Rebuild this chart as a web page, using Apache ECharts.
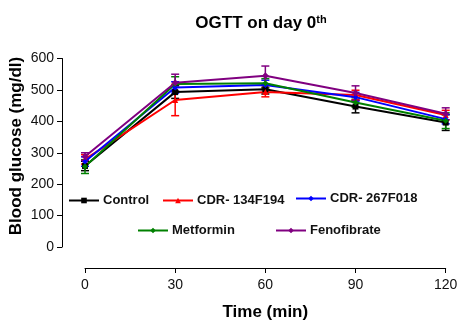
<!DOCTYPE html>
<html><head><meta charset="utf-8">
<script src="https://cdn.jsdelivr.net/npm/echarts@6/dist/echarts.min.js"></script>
<style>html,body{margin:0;padding:0;background:#fff}#c{width:470px;height:326px}</style>
</head><body><div id="c"></div>
<script>
const times = [0, 30, 60, 90, 120];
const xTicks = [0, 30, 60, 90, 120];
const seriesNames = ['Control', 'CDR- 134F194', 'CDR- 267F018', 'Metformin', 'Fenofibrate'];
const control = [258, 493, 502, 447, 396];
const cdr134 = [279, 468, 493, 484, 420];
const cdr267 = [272, 508, 516, 477, 407];
const metformin = [256, 519, 521, 460, 402];
const fenofibrate = [288, 523, 545, 490, 424];
const controlErr = [15, 20, 15, 20, 25];
const cdr134Err = [15, 50, 15, 15, 15];
const cdr267Err = [15, 18, 15, 15, 15];
const metforminErr = [22, 23, 15, 15, 25];
const fenofibrateErr = [12, 27, 31, 23, 19];

const colors = ['#000000', '#ff0000', '#0000ff', '#008000', '#800080'];
const symbols = ['rect', 'triangle', 'diamond', 'diamond', 'diamond'];
const symSizes = [6, 6, 6, 6, 7];
const values = [control, cdr134, cdr267, metformin, fenofibrate];
const errs = [controlErr, cdr134Err, cdr267Err, metforminErr, fenofibrateErr];

const FONT = '"Liberation Sans", Arial, sans-serif';
const series = [];
values.forEach((vals, i) => {
  series.push({
    type: 'custom', name: seriesNames[i] + '_err', silent: true,
    data: times.map((t, k) => [t, vals[k] - errs[i][k], vals[k] + errs[i][k]]),
    encode: {x: 0, y: [1, 2]},
    z: 3,
    renderItem: function (params, api) {
      const x = api.value(0);
      const lo = api.coord([x, api.value(1)]);
      const hi = api.coord([x, api.value(2)]);
      const w = 4;
      const st = {stroke: colors[i], lineWidth: 1.5};
      return {type: 'group', children: [
        {type: 'line', shape: {x1: lo[0], y1: lo[1], x2: hi[0], y2: hi[1]}, style: st},
        {type: 'line', shape: {x1: lo[0] - w, y1: lo[1], x2: lo[0] + w, y2: lo[1]}, style: st},
        {type: 'line', shape: {x1: hi[0] - w, y1: hi[1], x2: hi[0] + w, y2: hi[1]}, style: st}
      ]};
    }
  });
});
values.forEach((vals, i) => {
  series.push({
    type: 'line', name: seriesNames[i],
    data: times.map((t, k) => [t, vals[k]]),
    symbol: symbols[i], symbolSize: symSizes[i], showAllSymbol: true,
    lineStyle: {color: colors[i], width: 2},
    itemStyle: {color: colors[i]},
    z: 5
  });
});

const legendPos = [[68, 194], [162, 194], [295, 192], [137, 224], [275, 224]];
const legends = seriesNames.map((n, i) => ({
  data: [n], left: legendPos[i][0], top: legendPos[i][1],
  itemWidth: 30, itemHeight: 7, itemGap: 0, padding: 0,
  textStyle: {fontFamily: FONT, fontWeight: 'bold', fontSize: 13, color: '#111', padding: [0, 0, 0, -1]},
  selectedMode: false
}));

const chart = echarts.init(document.getElementById('c'), null, {renderer: 'canvas'});
chart.setOption({
  animation: false,
  backgroundColor: '#fff',
  title: {
    text: '{m|OGTT on day 0}{s|th}', left: 256, top: 9, textAlign: 'center',
    textStyle: {rich: {
      m: {fontFamily: FONT, fontWeight: 'bold', fontSize: 17, color: '#000'},
      s: {fontFamily: FONT, fontWeight: 'bold', fontSize: 11, color: '#000', verticalAlign: 'top', padding: [0, 0, 8, 0]}
    }}
  },
  legend: legends,
  grid: {left: 85, right: 24.3, top: 58.5, bottom: 79},
  xAxis: {
    type: 'value', min: xTicks[0], max: xTicks[xTicks.length - 1], interval: 30,
    offset: 21,
    axisLine: {show: true, onZero: false, lineStyle: {color: '#000', width: 1}},
    axisTick: {show: true, length: 5, lineStyle: {color: '#000'}},
    axisLabel: {fontFamily: FONT, fontSize: 14, color: '#111', margin: 10},
    splitLine: {show: false},
    name: 'Time (min)', nameLocation: 'middle', nameGap: 36,
    nameTextStyle: {fontFamily: FONT, fontWeight: 'bold', fontSize: 17, color: '#000'}
  },
  yAxis: {
    type: 'value', min: 0, max: 600, interval: 100,
    offset: 23,
    axisLine: {show: true, onZero: false, lineStyle: {color: '#000', width: 1}},
    axisTick: {show: true, length: 5, lineStyle: {color: '#000'}},
    axisLabel: {fontFamily: FONT, fontSize: 14, color: '#111', margin: 8},
    splitLine: {show: false}
  },
  graphic: [{
    type: 'text', x: 16, y: 146, rotation: Math.PI / 2,
    style: {text: 'Blood glucose (mg/dl)', fontFamily: FONT, fontWeight: 'bold', fontSize: 17, fill: '#000', align: 'center', verticalAlign: 'middle'}
  }],
  series: series
});
</script></body></html>
